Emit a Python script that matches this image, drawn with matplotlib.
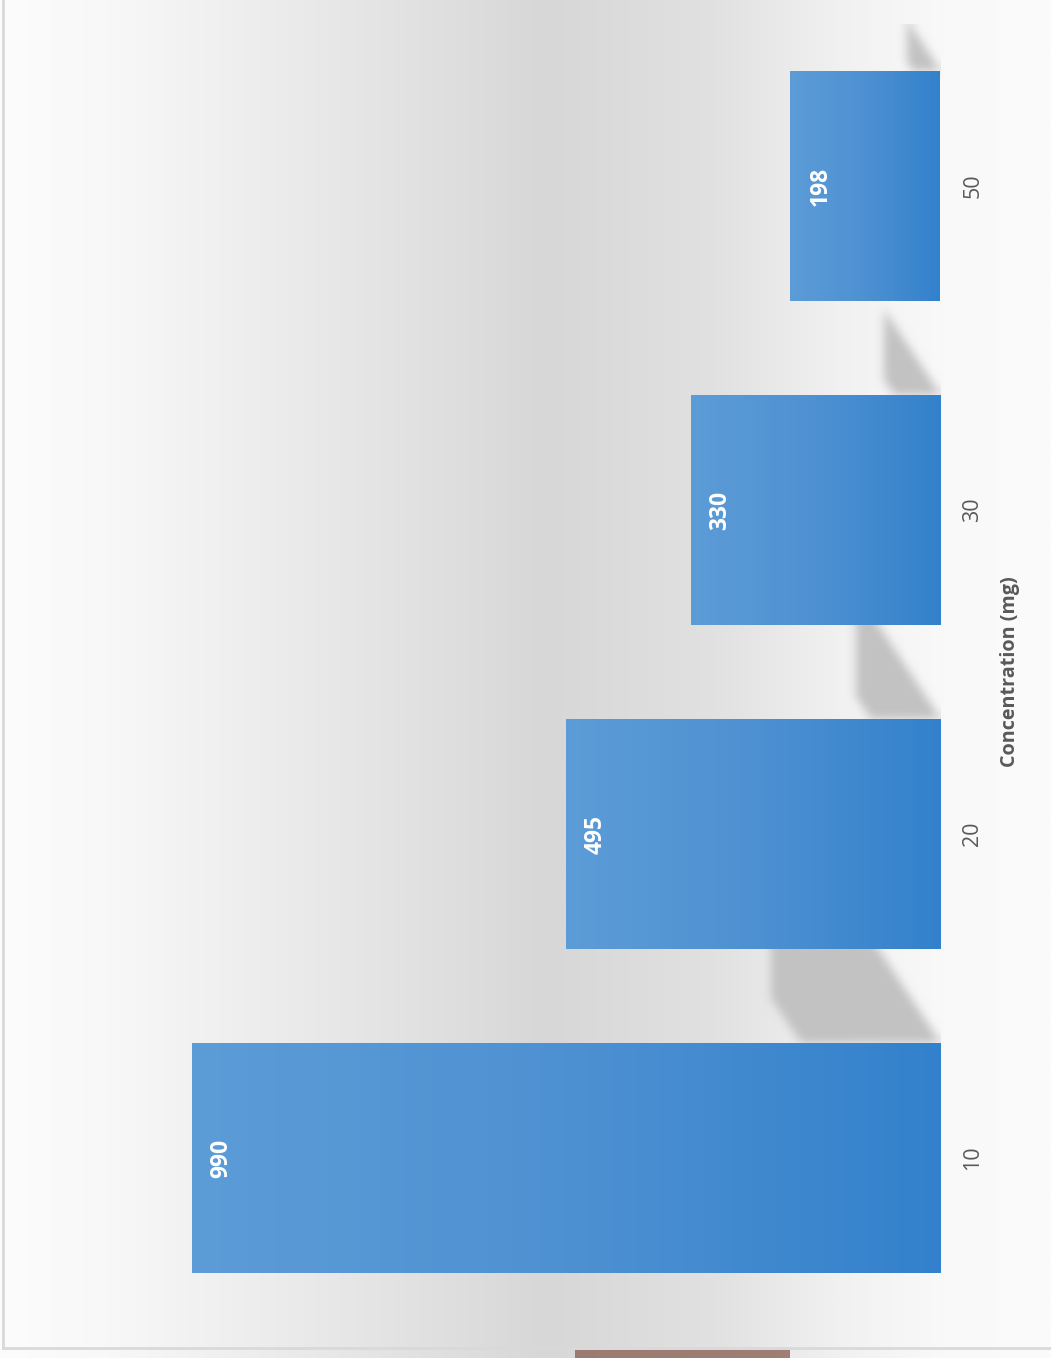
import matplotlib
matplotlib.use('Agg')
import matplotlib.pyplot as plt
from matplotlib import patches
from matplotlib.path import Path
from matplotlib.colors import LinearSegmentedColormap, to_rgb
import numpy as np

plt.rcParams['font.family'] = ['Open Sans', 'DejaVu Sans']

# Data
categories = ['10', '20', '30', '50']
values = [990, 495, 330, 198]
axis_title = 'Concentration (mg)'

W, H = 1051, 1358
fig = plt.figure(figsize=(W / 100, H / 100), dpi=100)

# Chart-area background: horizontal grey gradient
bg = fig.add_axes([0, 0, 1, 1], zorder=-10)
stops = [(0.0, '#fcfcfc'), (0.10, '#f8f8f8'), (0.30, '#e9e9e9'),
         (0.52, '#d7d7d7'), (0.68, '#e1e1e1'), (0.80, '#f1f1f1'),
         (0.90, '#f9f9f9'), (1.0, '#fbfbfb')]
bg_cmap = LinearSegmentedColormap.from_list('bg', stops)
bg.imshow(np.linspace(0, 1, 512)[None, :], cmap=bg_cmap, aspect='auto',
          extent=[0, 1, 0, 1])
bg.set_xlim(0, 1)
bg.set_ylim(0, 1)
bg.axis('off')

# bit of picture peeking below the chart
bg.add_patch(patches.Rectangle((575 / W, 0), 215 / W, 8 / H,
                               color='#8d6357', alpha=0.8, lw=0))
bg.add_patch(patches.Rectangle((0, 1 - 1348 / H), 1, 1 / H - 0.0, color='none'))
# chart border (left and bottom edges visible)
bg.plot([3 / W, 3 / W], [1, 1 - 1348 / H], color='#d9d9d9', lw=2)
bg.plot([3 / W, 1], [1 - 1348 / H, 1 - 1348 / H], color='#d9d9d9', lw=2)

# Plot area
left_px, right_px, top_px, bottom_px = 33, 940, 24, 1320
ax_w, ax_h = right_px - left_px, bottom_px - top_px
ax = fig.add_axes([left_px / W, 1 - bottom_px / H, ax_w / W, ax_h / H])
ax.patch.set_alpha(0)
xmax = 1200
bar_h = 0.71
pos = np.arange(len(categories))
ylo, yhi = -0.5, len(categories) - 0.5

bars = ax.barh(pos, values, height=bar_h, color='none', zorder=2)

# bar gradients
bar_cmap = LinearSegmentedColormap.from_list('bar', ['#5c9cd7', '#4e91d2', '#3381cc'])
grad = np.linspace(0, 1, 256)[None, :]
for b in bars:
    x0, y0 = b.get_x(), b.get_y()
    im = ax.imshow(grad, cmap=bar_cmap, aspect='auto', zorder=2,
                   extent=[x0 + b.get_width(), x0, y0, y0 + b.get_height()])
    im.set_clip_path(b)

# soft perspective shadows behind bars (rasterised and blurred)
val_per_px = xmax / ax_w
cat_per_px = len(categories) / ax_h
k = 0.667
gx = xmax - (np.arange(ax_w) + 0.5) * val_per_px
gy = yhi - (np.arange(ax_h) + 0.5) * cat_per_px
XX, YY = np.meshgrid(gx, gy)
grid_pts = np.column_stack([XX.ravel(), YY.ravel()])
mask = np.zeros(XX.size)
for i, v in enumerate(values):
    L = 0.1716 * v
    c = 0.176 * L
    pts_px = [(0, 0), (L - c, 0), (L, c / k), (L, L / k)]
    pts = [(d * val_per_px, i + bar_h / 2 + u * cat_per_px) for d, u in pts_px]
    mask[Path(pts).contains_points(grid_pts)] = 1.0
mask = mask.reshape(XX.shape)


def box_blur(a, r, axis):
    pad = [(0, 0), (0, 0)]
    pad[axis] = (r + 1, r)
    p = np.pad(a, pad, mode='edge')
    cs = np.cumsum(p, axis=axis)
    n = a.shape[axis]
    hi = np.take(cs, np.arange(2 * r + 1, 2 * r + 1 + n), axis=axis)
    lo = np.take(cs, np.arange(0, n), axis=axis)
    return (hi - lo) / (2 * r + 1)


for _ in range(3):
    mask = box_blur(mask, 4, 0)
    mask = box_blur(mask, 4, 1)

shadow = np.zeros(mask.shape + (4,))
shadow[..., :3] = to_rgb('#c2c2c2')
shadow[..., 3] = np.clip(mask, 0, 1)
ax.imshow(shadow, aspect='auto', extent=[xmax, 0, ylo, yhi], zorder=1,
          interpolation='nearest')

# value labels
for i, v in enumerate(values):
    ax.annotate(str(v), xy=(v, i), xytext=(30, 0), textcoords='offset pixels',
                rotation=90, ha='center', va='center', color='white',
                fontsize=16.5, fontweight='bold', zorder=3)

ax.set_xlim(xmax, 0)
ax.set_ylim(ylo, yhi)
ax.set_xticks([])
ax.yaxis.tick_right()
ax.set_yticks(pos)
ax.set_yticklabels(categories, rotation=90, va='center', ha='left')
ax.tick_params(axis='y', length=0, pad=16, labelsize=15.5, labelcolor='#595959')
for s in ax.spines.values():
    s.set_visible(False)

ax.text((1010 - left_px) / ax_w, 0.5, axis_title,
        transform=ax.transAxes, rotation=90, ha='center', va='center',
        fontsize=14.2, fontweight='bold', color='#595959')

fig.savefig('out.png', dpi=100)
